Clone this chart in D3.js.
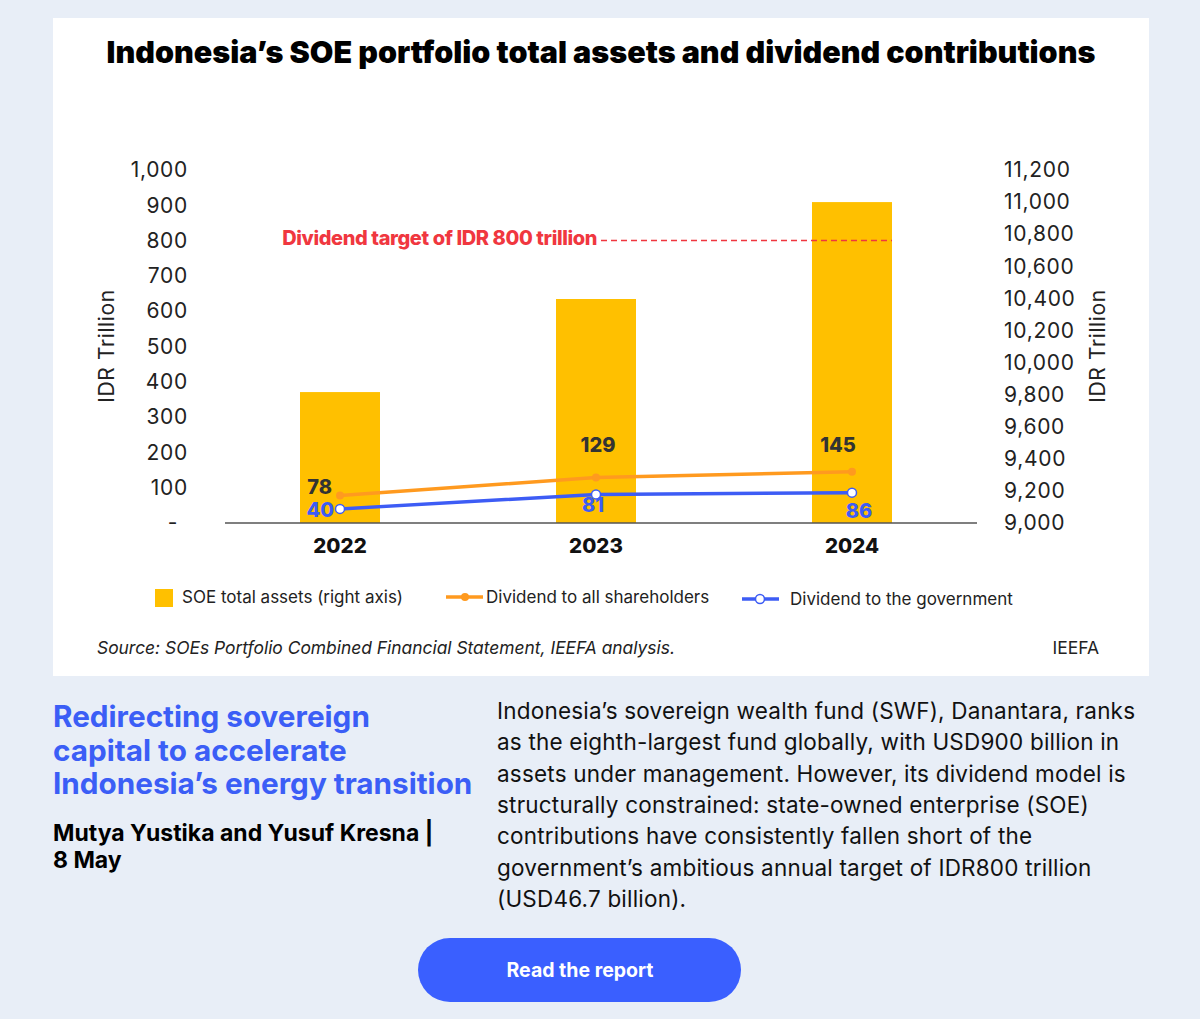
<!DOCTYPE html>
<html>
<head>
<meta charset="utf-8">
<script src="https://cdn.jsdelivr.net/npm/d3@7"></script>
<style>
  body { margin: 0; background: #e8eef7; font-family: Inter, "Noto Sans", sans-serif; }
</style>
</head>
<body>
<div id="chart"></div>
<script>
// data
const years = ["2022", "2023", "2024"];
const totalAssets = [9816, 10396, 11000];      // right axis
const divAll = [78, 129, 145];                  // left axis
const divGov = [40, 81, 86];                    // left axis
const target = 800;
const leftTicks = [0, 100, 200, 300, 400, 500, 600, 700, 800, 900, 1000];
const rightTicks = [9000, 9200, 9400, 9600, 9800, 10000, 10200, 10400, 10600, 10800, 11000, 11200];
const paraLines = [
  "Indonesia\u2019s sovereign wealth fund (SWF), Danantara, ranks",
  "as the eighth-largest fund globally, with USD900 billion in",
  "assets under management. However, its dividend model is",
  "structurally constrained: state-owned enterprise (SOE)",
  "contributions have consistently fallen short of the",
  "government\u2019s ambitious annual target of IDR800 trillion",
  "(USD46.7 billion)."
];
const headLines = ["Redirecting sovereign", "capital to accelerate", "Indonesia\u2019s energy transition"];
const authorLines = ["Mutya Yustika and Yusuf Kresna |", "8 May"];

const W = 1200, H = 1019;
const gold = "#ffc000", orange = "#ff9a1f", blue = "#3d5cf5", red = "#f0373f";

const svg = d3.select("#chart").append("svg")
    .attr("width", W)
    .attr("height", H)
    .attr("viewBox", [0, 0, W, H]);

svg.append("rect").attr("width", W).attr("height", H).attr("fill", "#e8eef7");
svg.append("rect")
    .attr("x", 53).attr("y", 18)
    .attr("width", 1096).attr("height", 658)
    .attr("fill", "#fff");

svg.append("text")
    .attr("x", 601).attr("y", 63)
    .attr("text-anchor", "middle")
    .attr("font-size", 30.5)
    .attr("font-weight", 900)
    .attr("fill", "#000")
    .text("Indonesia\u2019s SOE portfolio total assets and dividend contributions");

const x = d3.scaleBand().domain(years)
    .range([212, 980])
    .paddingInner(0.6875)
    .paddingOuter(0.34375);

const yL = d3.scaleLinear().domain([0, 1000]).range([523, 170]);
const yR = d3.scaleLinear().domain([9000, 11200]).range([523, 170]);

// bars
svg.append("g")
  .selectAll("rect")
  .data(years)
  .join("rect")
    .attr("x", d => x(d))
    .attr("y", (d, i) => yR(totalAssets[i]))
    .attr("width", x.bandwidth())
    .attr("height", (d, i) => yR(9000) - yR(totalAssets[i]))
    .attr("fill", gold);

// left axis
svg.append("g")
    .attr("transform", "translate(188,0)")
    .call(d3.axisLeft(yL).tickValues(leftTicks).tickSize(0).tickPadding(0)
        .tickFormat(d => d === 0 ? "-" : d3.format(",")(d)))
    .call(g => g.select(".domain").remove())
    .call(g => g.selectAll("text")
        .attr("font-family", "Inter, sans-serif")
        .attr("font-size", 21)
        .attr("letter-spacing", 0.7)
        .attr("fill", "#222")
        .attr("dx", d => d === 0 ? -10 : 0));

// right axis
svg.append("g")
    .attr("transform", "translate(1004,0)")
    .call(d3.axisRight(yR).tickValues(rightTicks).tickSize(0).tickPadding(0)
        .tickFormat(d3.format(",")))
    .call(g => g.select(".domain").remove())
    .call(g => g.selectAll("text")
        .attr("font-family", "Inter, sans-serif")
        .attr("font-size", 21)
        .attr("letter-spacing", 0.7)
        .attr("fill", "#222"));

// axis titles
svg.append("text")
    .attr("transform", "translate(114,346) rotate(-90)")
    .attr("text-anchor", "middle")
    .attr("font-size", 21)
    .attr("letter-spacing", 0.6)
    .attr("fill", "#222")
    .text("IDR Trillion");
svg.append("text")
    .attr("transform", "translate(1105,346) rotate(-90)")
    .attr("text-anchor", "middle")
    .attr("font-size", 21)
    .attr("letter-spacing", 0.6)
    .attr("fill", "#222")
    .text("IDR Trillion");

// baseline
svg.append("line")
    .attr("x1", 225).attr("x2", 977)
    .attr("y1", yL(0)).attr("y2", yL(0))
    .attr("stroke", "#555").attr("stroke-width", 1.5);

// year labels
svg.append("g")
  .selectAll("text")
  .data(years)
  .join("text")
    .attr("x", d => x(d) + x.bandwidth() / 2)
    .attr("y", 553)
    .attr("text-anchor", "middle")
    .attr("font-size", 20.5)
    .attr("font-weight", 800)
    .attr("fill", "#111")
    .text(d => d);

// target line
svg.append("line")
    .attr("x1", 601).attr("x2", x("2024") + x.bandwidth())
    .attr("y1", yL(target)).attr("y2", yL(target))
    .attr("stroke", red).attr("stroke-width", 1.5)
    .attr("stroke-dasharray", "6,4");
svg.append("text")
    .attr("x", 597).attr("y", yL(target) + 4)
    .attr("text-anchor", "end")
    .attr("font-size", 20)
    .attr("font-weight", 800)
    .attr("letter-spacing", -0.4)
    .attr("fill", red)
    .text("Dividend target of IDR " + target + " trillion");

const cx = d => x(d) + x.bandwidth() / 2;
const line = vals => d3.line().x(d => cx(d)).y((d, i) => yL(vals[i]));

svg.append("path")
    .datum(years)
    .attr("d", line(divAll))
    .attr("fill", "none").attr("stroke", orange).attr("stroke-width", 3.5);
svg.append("g").selectAll("circle").data(years).join("circle")
    .attr("cx", cx).attr("cy", (d, i) => yL(divAll[i]))
    .attr("r", 4).attr("fill", orange);

svg.append("path")
    .datum(years)
    .attr("d", line(divGov))
    .attr("fill", "none").attr("stroke", blue).attr("stroke-width", 3.5);
svg.append("g").selectAll("circle").data(years).join("circle")
    .attr("cx", cx).attr("cy", (d, i) => yL(divGov[i]))
    .attr("r", 4.5).attr("fill", "#fff").attr("stroke", blue).attr("stroke-width", 1.5);

// value labels
const allPos = [{dx: -8, dy: -1, a: "end"}, {dx: 2, dy: -25, a: "middle"}, {dx: -14, dy: -20, a: "middle"}];
const govPos = [{dx: -6, dy: 8, a: "end"}, {dx: -3, dy: 18, a: "middle"}, {dx: 7, dy: 25, a: "middle"}];
svg.append("g").selectAll("text").data(years).join("text")
    .attr("x", (d, i) => cx(d) + allPos[i].dx)
    .attr("y", (d, i) => yL(divAll[i]) + allPos[i].dy)
    .attr("text-anchor", (d, i) => allPos[i].a)
    .attr("font-size", 20).attr("font-weight", 800).attr("fill", "#333")
    .text((d, i) => divAll[i]);
svg.append("g").selectAll("text").data(years).join("text")
    .attr("x", (d, i) => cx(d) + govPos[i].dx)
    .attr("y", (d, i) => yL(divGov[i]) + govPos[i].dy)
    .attr("text-anchor", (d, i) => govPos[i].a)
    .attr("font-size", 20).attr("font-weight", 800).attr("fill", blue)
    .text((d, i) => divGov[i]);

// legend
const lg = svg.append("g").attr("font-size", 17).attr("fill", "#222");
lg.append("rect").attr("x", 155).attr("y", 589).attr("width", 18).attr("height", 18).attr("fill", gold);
lg.append("text").attr("x", 182).attr("y", 603).text("SOE total assets (right axis)");
lg.append("line").attr("x1", 446).attr("x2", 483).attr("y1", 597).attr("y2", 597)
    .attr("stroke", orange).attr("stroke-width", 3.5);
lg.append("circle").attr("cx", 465).attr("cy", 597).attr("r", 4).attr("fill", orange);
lg.append("text").attr("x", 486).attr("y", 603).text("Dividend to all shareholders");
lg.append("line").attr("x1", 742).attr("x2", 779).attr("y1", 599).attr("y2", 599)
    .attr("stroke", blue).attr("stroke-width", 3.5);
lg.append("circle").attr("cx", 760).attr("cy", 599).attr("r", 4.5)
    .attr("fill", "#fff").attr("stroke", blue).attr("stroke-width", 1.5);
lg.append("text").attr("x", 790).attr("y", 605).text("Dividend to the government");

// source
svg.append("text")
    .attr("x", 97).attr("y", 654)
    .attr("font-size", 17.4).attr("font-style", "italic").attr("fill", "#222")
    .text("Source: SOEs Portfolio Combined Financial Statement, IEEFA analysis.");
svg.append("text")
    .attr("x", 1099).attr("y", 654)
    .attr("text-anchor", "end")
    .attr("font-size", 17.5).attr("fill", "#222")
    .text("IEEFA");

// article block
svg.append("g").selectAll("text").data(headLines).join("text")
    .attr("x", 53).attr("y", (d, i) => 727 + i * 33.5)
    .attr("font-size", 29.7).attr("font-weight", 700).attr("fill", "#3b5ef6")
    .text(d => d);
svg.append("g").selectAll("text").data(authorLines).join("text")
    .attr("x", 53).attr("y", (d, i) => 841 + i * 26.5)
    .attr("font-size", 23).attr("font-weight", 700).attr("fill", "#000")
    .text(d => d);
svg.append("g").selectAll("text").data(paraLines).join("text")
    .attr("x", 497).attr("y", (d, i) => 719 + i * 31.3)
    .attr("font-size", 22.5).attr("letter-spacing", 0.2).attr("fill", "#111")
    .text(d => d);

// button
svg.append("rect")
    .attr("x", 418).attr("y", 938)
    .attr("width", 323).attr("height", 64)
    .attr("rx", 32)
    .attr("fill", "#3a5fff");
svg.append("text")
    .attr("x", 580).attr("y", 977)
    .attr("text-anchor", "middle")
    .attr("font-size", 19.5).attr("font-weight", 700).attr("fill", "#fff")
    .text("Read the report");
</script>
</body>
</html>
